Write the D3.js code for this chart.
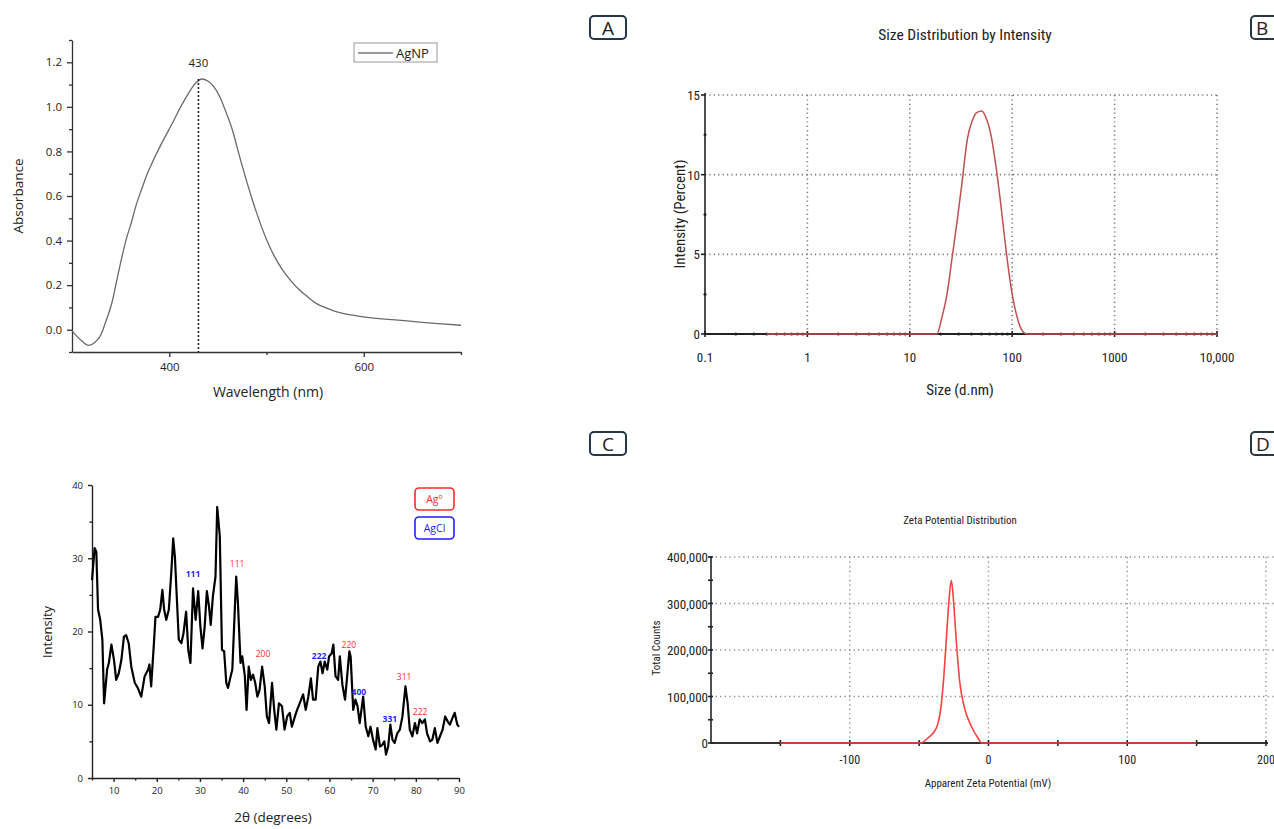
<!DOCTYPE html>
<html>
<head>
<meta charset="utf-8">
<script src="https://cdn.jsdelivr.net/npm/d3@7"></script>
<style>
body { margin: 0; background: #fff; }
svg { display: block; }
text { fill: #222; }
</style>
</head>
<body>
<svg width="1274" height="829"></svg>
<script>
// ---- A: UV-vis
const uvWavelength = [300, 310, 317, 324, 330, 335, 341, 346, 351, 356, 361, 366, 372, 377, 382, 392, 403, 413, 419, 424, 428, 433, 440, 446, 452, 458, 465, 470, 475, 480, 486, 493, 500, 508, 517, 526, 534, 543, 551, 560, 569, 596, 638, 660, 680, 700]
const uvAbsorbance = [-0.005, -0.05, -0.07, -0.055, -0.02, 0.04, 0.12, 0.22, 0.32, 0.41, 0.48, 0.56, 0.635, 0.695, 0.745, 0.835, 0.925, 1.01, 1.055, 1.09, 1.11, 1.125, 1.115, 1.09, 1.045, 0.98, 0.895, 0.815, 0.735, 0.66, 0.575, 0.485, 0.405, 0.33, 0.265, 0.215, 0.178, 0.145, 0.118, 0.10, 0.085, 0.06, 0.042, 0.033, 0.026, 0.02]
const uvPeak = 430
const uvPeakValue = 1.125

// ---- B: DLS size distribution
const dlsSize = [0.4, 18.4, 20.6, 23.1, 25.9, 29, 32.5, 36.4, 40.8, 45, 50.5, 55.3, 62, 69.5, 77.8, 87.3, 97.7, 109.6, 122.8, 137.7, 10000]
const dlsIntensity = [0, 0, 1.05, 2.5, 4.8, 7.1, 9.6, 12.2, 13.4, 13.9, 14.0, 13.6, 12.5, 10.5, 8.0, 5.2, 2.9, 1.26, 0.3, 0, 0]
const dlsTicks = [0.1, 1, 10, 100, 1000, 10000]
const dlsTickLabels = ["0.1", "1", "10", "100", "1000", "10,000"]

// ---- C: XRD
const xrdAngle = [5.0, 5.6, 6.0, 6.4, 6.9, 7.4, 7.8, 8.5, 8.9, 9.5, 10.1, 10.6, 11.2, 11.8, 12.4, 12.9, 13.5, 14.1, 14.9, 15.6, 16.4, 17.2, 18.0, 18.3, 18.7, 19.3, 19.7, 20.3, 20.8, 21.3, 21.7, 22.2, 22.8, 23.4, 23.8, 24.2, 24.7, 25.1, 25.7, 26.2, 26.8, 27.3, 27.8, 28.4, 29.0, 29.6, 30.1, 30.6, 31.1, 31.6, 32.1, 32.5, 33.0, 33.6, 34.0, 34.6, 35.1, 35.6, 36.1, 36.5, 37.0, 37.5, 38.1, 38.4, 38.8, 39.4, 39.8, 40.4, 40.8, 41.3, 41.8, 42.3, 42.8, 43.3, 43.8, 44.4, 45.0, 45.5, 46.0, 46.7, 47.2, 47.7, 48.3, 49.0, 49.6, 50.2, 50.8, 51.3, 52.0, 52.5, 53.1, 53.9, 54.5, 55.1, 55.7, 56.2, 56.8, 57.4, 57.9, 58.4, 58.9, 59.5, 59.9, 60.5, 60.9, 61.4, 62.0, 62.4, 63.0, 63.6, 64.1, 64.6, 64.9, 65.5, 66.0, 66.5, 67.0, 67.8, 68.4, 69.0, 69.5, 70.1, 70.7, 71.1, 71.7, 72.2, 72.7, 73.1, 73.6, 74.1, 74.6, 75.1, 75.7, 76.3, 76.9, 77.6, 78.1, 78.6, 79.2, 79.8, 80.3, 80.9, 81.5, 82.1, 82.6, 83.3, 83.8, 84.4, 85.0, 85.6, 86.2, 86.8, 87.4, 87.9, 88.5, 89.0, 89.6, 90.0]
const xrdIntensity = [27, 31.4, 30.9, 23, 21.6, 18.9, 10.2, 14.8, 15.7, 18.2, 16.1, 13.4, 14.3, 16.1, 19.3, 19.5, 18.4, 15.2, 13, 12.3, 11.1, 13.9, 14.8, 15.5, 12.5, 18, 22, 22, 23, 25.7, 23, 21.6, 23, 28.4, 32.7, 30.2, 23.9, 18.9, 18.4, 19.8, 22.7, 17.5, 15.7, 25.9, 21.6, 25.5, 20.7, 17.7, 20.7, 25.5, 23.4, 20.9, 24.8, 27.5, 37, 33, 17.5, 17.3, 13, 12.3, 13.6, 14.8, 23.4, 27.5, 23.9, 15.7, 16.6, 13.9, 9.3, 15.2, 13.4, 14.1, 13, 11.1, 12, 15.2, 12.5, 8.4, 7.5, 13, 9.3, 6.6, 10.2, 9.8, 6.6, 8.4, 8.9, 7, 8.4, 9.3, 10.2, 11.4, 9.3, 11.1, 13.6, 10.7, 10.7, 15.2, 15.9, 14.3, 15.9, 14.8, 16.6, 17, 18.2, 13.9, 13.4, 16.6, 12.7, 10.7, 13.9, 17.3, 16.6, 9.3, 10.7, 9.8, 7.5, 11.1, 7, 5.7, 7, 5.2, 3.9, 6.8, 4.3, 4.5, 5, 3.2, 4.3, 7.3, 5.2, 4.8, 6.1, 6.6, 8.4, 12.5, 10.2, 6.6, 5.7, 7.5, 6.1, 8, 7.5, 8, 6.1, 5, 5.2, 6.8, 4.8, 5.7, 6.6, 8.4, 7.7, 7.3, 8.2, 8.9, 7.3, 7]
const xrdLabels = ["111", "111", "200", "222", "220", "400", "331", "311", "222"]
const xrdLabelPhase = ["AgCl", "Ag", "Ag", "AgCl", "Ag", "AgCl", "AgCl", "Ag", "Ag"]
const xrdLabelAngle = [28.4, 38.6, 44.6, 57.6, 64.5, 66.8, 74.0, 77.3, 81.0]
const xrdLabelValue = [27.8, 29.2, 16.9, 16.6, 18.1, 11.7, 8.0, 13.8, 9.0]

// ---- D: zeta potential
const zetaMv = [-150, -48.9, -43.7, -37.6, -34, -32.1, -29.7, -28.3, -26.8, -25.4, -23.2, -20.8, -17.3, -12.4, -7.6, -4.8, 150]
const zetaCounts = [0, 0, 10800, 32000, 83000, 147000, 255000, 313000, 350000, 313000, 219000, 133000, 75500, 36000, 10800, 0, 0]

const svg = d3.select("svg")
const narrow = "'Liberation Sans Narrow', 'Arial Narrow', 'Roboto Condensed', sans-serif"
const sans = "'Open Sans', 'Noto Sans', sans-serif"

function tag(x, y, letter, clipped) {
  svg.append("rect").attr("x", x).attr("y", y).attr("width", 36).attr("height", 23)
    .attr("rx", 4).attr("fill", "none").attr("stroke", "#23364a").attr("stroke-width", 2)
  svg.append("text").attr("x", clipped ? x + 5 : x + 18).attr("y", y + 18.5)
    .attr("text-anchor", clipped ? "start" : "middle")
    .style("font", "19px " + sans).text(letter)
}

// ================= Panel A =================
{
  const x = d3.scaleLinear([300, 700], [72, 461])
  const y = d3.scaleLinear([-0.1, 1.3], [352, 40])
  const g = svg.append("g")

  g.append("g").attr("transform", "translate(0,352)")
    .call(d3.axisBottom(x).tickValues([400, 600]).tickSize(5).tickSizeOuter(0).tickPadding(6))
  g.append("g").attr("transform", "translate(0,352)")
    .call(d3.axisBottom(x).tickValues([500, 700]).tickSize(3).tickFormat(""))
    .select(".domain").remove()
  g.append("g").attr("transform", "translate(72,0)")
    .call(d3.axisLeft(y).tickValues(d3.range(0, 1.21, 0.2)).tickFormat(d3.format(".1f")).tickSize(5).tickSizeOuter(0).tickPadding(5))
  g.append("g").attr("transform", "translate(72,0)")
    .call(d3.axisLeft(y).tickValues(d3.range(-0.1, 1.31, 0.2)).tickSize(3).tickFormat(""))
    .select(".domain").remove()
  g.selectAll(".domain, .tick line").attr("stroke", "#333").attr("stroke-width", 1.3)
  g.selectAll(".tick text").style("font", "11.5px " + sans).attr("fill", "#333")

  g.append("path").datum(uvWavelength.map((w, i) => [w, uvAbsorbance[i]]))
    .attr("d", d3.line().x(d => x(d[0])).y(d => y(d[1])).curve(d3.curveMonotoneX))
    .attr("fill", "none").attr("stroke", "#6a6a6a").attr("stroke-width", 1.3)

  g.append("line").attr("x1", x(uvPeak)).attr("x2", x(uvPeak)).attr("y1", y(uvPeakValue)).attr("y2", 352)
    .attr("stroke", "#222").attr("stroke-width", 1.6).attr("stroke-dasharray", "2,2")
  g.append("text").attr("x", x(uvPeak)).attr("y", y(uvPeakValue) - 12).attr("text-anchor", "middle")
    .style("font", "11.5px " + sans).text(uvPeak)

  // legend
  g.append("rect").attr("x", 354).attr("y", 43).attr("width", 83).attr("height", 19)
    .attr("fill", "#fff").attr("stroke", "#999").attr("stroke-width", 1)
  g.append("line").attr("x1", 358).attr("x2", 393).attr("y1", 53).attr("y2", 53).attr("stroke", "#777").attr("stroke-width", 1.3)
  g.append("text").attr("x", 396).attr("y", 58).style("font", "13px " + sans).text("AgNP")

  g.append("text").attr("transform", "translate(23,196) rotate(-90)").attr("text-anchor", "middle")
    .style("font", "13.5px " + sans).attr("fill", "#444").text("Absorbance")
  g.append("text").attr("x", 268).attr("y", 397).attr("text-anchor", "middle")
    .style("font", "14px " + sans).attr("fill", "#444").text("Wavelength (nm)")
}

// ================= Panel B =================
{
  const x = d3.scaleLog([0.1, 10000], [705, 1217])
  const y = d3.scaleLinear([0, 15], [334, 95])
  const g = svg.append("g")

  // grid
  g.selectAll("line.hg").data([5, 10, 15]).join("line")
    .attr("x1", 705).attr("x2", 1218).attr("y1", d => y(d)).attr("y2", d => y(d))
  g.selectAll("line.vg").data(dlsTicks.slice(1)).join("line")
    .attr("x1", d => x(d)).attr("x2", d => x(d)).attr("y1", 95).attr("y2", 334)
  g.selectAll("line").attr("stroke", "#777").attr("stroke-width", 1.6).attr("stroke-dasharray", "1.2,3.2")

  // axes
  g.append("line").attr("x1", 705).attr("x2", 705).attr("y1", 93).attr("y2", 335).attr("stroke", "#222").attr("stroke-width", 1.6)
  g.append("line").attr("x1", 705).attr("x2", 1217).attr("y1", 334).attr("y2", 334).attr("stroke", "#222").attr("stroke-width", 2.2)
  g.selectAll("line.yt").data([0, 5, 10, 15]).join("line").attr("class", "yt")
    .attr("x1", 701).attr("x2", 705).attr("y1", d => y(d)).attr("y2", d => y(d)).attr("stroke", "#222").attr("stroke-width", 1.6)
  g.selectAll("circle.yd").data([2.5, 7.5, 12.5]).join("circle")
    .attr("cx", 705).attr("cy", d => y(d)).attr("r", 1.5).attr("fill", "#222")

  const minor = x.ticks().filter(d => !dlsTicks.includes(d))
  g.selectAll("circle.xd").data(minor).join("circle")
    .attr("cx", d => x(d)).attr("cy", 334).attr("r", 1.5).attr("fill", "#222")
  g.selectAll("line.xt").data(dlsTicks).join("line")
    .attr("x1", d => x(d)).attr("x2", d => x(d)).attr("y1", 331).attr("y2", 337).attr("stroke", "#222").attr("stroke-width", 1.6)

  g.append("path").datum(dlsSize.map((s, i) => [s, dlsIntensity[i]]))
    .attr("d", d3.line().x(d => x(d[0])).y(d => y(d[1])).curve(d3.curveMonotoneX))
    .attr("fill", "none").attr("stroke", "#c0504d").attr("stroke-width", 1.5)

  g.selectAll("text.xl").data(dlsTicks).join("text")
    .attr("x", d => x(d)).attr("y", 362).attr("text-anchor", "middle")
    .style("font", "13px " + narrow).attr("fill", "#444").text((d, i) => dlsTickLabels[i])
  g.selectAll("text.yl").data([0, 5, 10, 15]).join("text")
    .attr("x", 700).attr("y", d => y(d) + 5).attr("text-anchor", "end")
    .style("font", "13px " + narrow).attr("fill", "#444").text(d => d)

  g.append("text").attr("x", 965).attr("y", 40).attr("text-anchor", "middle")
    .style("font", "15.5px " + narrow).attr("fill", "#333").text("Size Distribution by Intensity")
  g.append("text").attr("transform", "translate(685,214) rotate(-90)").attr("text-anchor", "middle")
    .style("font", "15px " + narrow).attr("fill", "#333").text("Intensity (Percent)")
  g.append("text").attr("x", 960).attr("y", 395).attr("text-anchor", "middle")
    .style("font", "15px " + narrow).attr("fill", "#333").text("Size (d.nm)")
}

// ================= Panel C =================
{
  const x = d3.scaleLinear([5, 90], [92, 459])
  const y = d3.scaleLinear([0, 40], [778, 485])
  const g = svg.append("g")

  g.append("g").attr("transform", "translate(0,778)")
    .call(d3.axisBottom(x).tickValues(d3.range(10, 91, 10)).tickSize(4).tickSizeOuter(0).tickPadding(5))
  g.append("g").attr("transform", "translate(0,778)")
    .call(d3.axisBottom(x).tickValues(d3.range(5, 90, 10)).tickSize(2.5).tickFormat(""))
    .select(".domain").remove()
  g.append("g").attr("transform", "translate(92,0)")
    .call(d3.axisLeft(y).tickValues(d3.range(0, 41, 10)).tickSize(4).tickSizeOuter(0).tickPadding(5))
  g.append("g").attr("transform", "translate(92,0)")
    .call(d3.axisLeft(y).tickValues(d3.range(5, 40, 10)).tickSize(2.5).tickFormat(""))
    .select(".domain").remove()
  g.selectAll(".domain, .tick line").attr("stroke", "#222").attr("stroke-width", 1.4)
  g.selectAll(".tick text").style("font", "9.5px " + sans).attr("fill", "#333")

  g.append("path").datum(xrdAngle.map((a, i) => [a, xrdIntensity[i]]))
    .attr("d", d3.line().x(d => x(d[0])).y(d => y(d[1])))
    .attr("fill", "none").attr("stroke", "#000").attr("stroke-width", 2.2).attr("stroke-linejoin", "round")

  g.selectAll("text.pk").data(xrdLabels).join("text")
    .attr("x", (d, i) => x(xrdLabelAngle[i])).attr("y", (d, i) => y(xrdLabelValue[i]) + 3)
    .attr("text-anchor", "middle")
    .style("font", "8.5px " + sans)
    .style("font-weight", (d, i) => xrdLabelPhase[i] === "AgCl" ? "700" : "400")
    .style("fill", (d, i) => xrdLabelPhase[i] === "AgCl" ? "#1f1fff" : "#ff2a2a")
    .text(d => d)

  // legend
  const leg = [["Ag", "#ff2a2a", 488], ["AgCl", "#1f1fff", 517]]
  leg.forEach(([name, c, ty]) => {
    g.append("rect").attr("x", 415).attr("y", ty).attr("width", 39).attr("height", 22)
      .attr("rx", 4).attr("fill", "#fff").attr("stroke", c).attr("stroke-width", 1.6)
    const t = g.append("text").attr("x", 434.5).attr("y", ty + 15).attr("text-anchor", "middle")
      .style("font", "10.5px " + sans).style("fill", c).text(name)
    if (name === "Ag") t.append("tspan").attr("dy", -4).style("font-size", "7px").text("o")
  })

  g.append("text").attr("transform", "translate(52,632) rotate(-90)").attr("text-anchor", "middle")
    .style("font", "13px " + sans).attr("fill", "#444").text("Intensity")
  g.append("text").attr("x", 273).attr("y", 822).attr("text-anchor", "middle")
    .style("font", "13.5px " + sans).attr("fill", "#444").text("2θ (degrees)")
}

// ================= Panel D =================
{
  const x = d3.scaleLinear([-200, 200], [711, 1266])
  const y = d3.scaleLinear([0, 400000], [743, 557])
  const g = svg.append("g")

  g.selectAll("line.hg").data([100000, 200000, 300000, 400000]).join("line")
    .attr("x1", 711).attr("x2", 1274).attr("y1", d => y(d)).attr("y2", d => y(d))
  g.selectAll("line.vg").data([-100, 0, 100, 200]).join("line")
    .attr("x1", d => x(d)).attr("x2", d => x(d)).attr("y1", 557).attr("y2", 743)
  g.selectAll("line").attr("stroke", "#888").attr("stroke-width", 1.4).attr("stroke-dasharray", "1.2,3.4")

  g.append("line").attr("x1", 711).attr("x2", 711).attr("y1", 556).attr("y2", 744).attr("stroke", "#222").attr("stroke-width", 1.6)
  g.append("line").attr("x1", 711).attr("x2", 1268).attr("y1", 743).attr("y2", 743).attr("stroke", "#333").attr("stroke-width", 2)
  g.selectAll("line.xt").data(d3.range(-150, 201, 50)).join("line")
    .attr("x1", d => x(d)).attr("x2", d => x(d)).attr("y1", 740).attr("y2", 746).attr("stroke", "#222").attr("stroke-width", 1.6)
  g.selectAll("line.yt").data(d3.range(0, 400001, 50000)).join("line")
    .attr("x1", 708).attr("x2", 713).attr("y1", d => y(d)).attr("y2", d => y(d)).attr("stroke", "#222").attr("stroke-width", 1.6)

  g.append("path").datum(zetaMv.map((m, i) => [m, zetaCounts[i]]))
    .attr("d", d3.line().x(d => x(d[0])).y(d => y(d[1])).curve(d3.curveMonotoneX))
    .attr("fill", "none").attr("stroke", "#ff4040").attr("stroke-width", 1.6)

  g.selectAll("text.xl").data([-100, 0, 100, 200]).join("text")
    .attr("x", d => x(d)).attr("y", 764).attr("text-anchor", "middle")
    .style("font", "12px " + narrow).attr("fill", "#333").text(d => d)
  g.selectAll("text.yl").data(d3.range(0, 400001, 100000)).join("text")
    .attr("x", 708).attr("y", d => y(d) + 5).attr("text-anchor", "end")
    .style("font", "13px " + narrow).attr("fill", "#333").text(d => d3.format(",")(d))

  g.append("text").attr("x", 960).attr("y", 524).attr("text-anchor", "middle")
    .style("font", "11px " + narrow).attr("fill", "#333").text("Zeta Potential Distribution")
  g.append("text").attr("transform", "translate(660,648) rotate(-90)").attr("text-anchor", "middle")
    .style("font", "11px " + narrow).attr("fill", "#333").text("Total Counts")
  g.append("text").attr("x", 988).attr("y", 787).attr("text-anchor", "middle")
    .style("font", "11px " + narrow).attr("fill", "#333").text("Apparent Zeta Potential (mV)")
}

tag(590, 16, "A")
tag(1251, 16, "B", true)
tag(590, 432, "C")
tag(1251, 432, "D", true)
</script>
</body>
</html>
